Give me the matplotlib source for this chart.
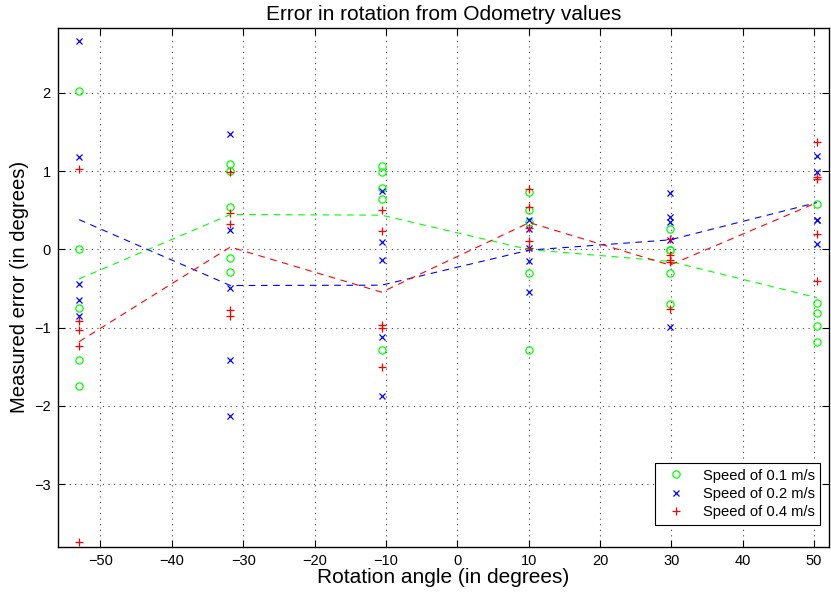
import numpy as np
import matplotlib
matplotlib.use("Agg")
import matplotlib.pyplot as plt

plt.rcParams['font.family'] = ['Liberation Sans', 'DejaVu Sans']

angles = [-53.0, -31.8, -10.6, 10.1, 29.8, 50.4]

speed_01 = [
    [2.03, 0.0, -0.75, -1.42, -1.75],
    [1.09, 1.0, 0.54, -0.11, -0.29],
    [1.064, 0.983, 0.787, 0.639, -1.286],
    [0.728, 0.498, 0.352, -0.307, -1.286],
    [0.26, -0.01, -0.01, -0.307, -0.70],
    [0.575, -0.68, -0.81, -0.98, -1.19],
]
speed_02 = [
    [2.66, 1.18, -0.44, -0.65, -0.85],
    [1.48, 0.25, -0.49, -1.42, -2.13],
    [0.745, 0.09, -0.137, -1.116, -1.87],
    [0.374, 0.259, 0.02, -0.15, -0.549],
    [0.715, 0.417, 0.345, 0.119, -0.988],
    [1.19, 0.99, 0.374, 0.374, 0.064],
]
speed_04 = [
    [1.03, -0.92, -1.03, -1.24, -3.74],
    [0.99, 0.47, 0.32, -0.78, -0.85],
    [0.50, 0.234, -0.97, -1.0, -1.50],
    [0.77, 0.544, 0.268, 0.11, 0.02],
    [0.13, -0.07, -0.137, -0.166, -0.76],
    [1.367, 0.927, 0.90, 0.195, -0.40],
]

labels = ['Speed of 0.1 m/s', 'Speed of 0.2 m/s', 'Speed of 0.4 m/s']
colors = ['#00ff00', '#0000ff', '#ff0000']
markers = ['o', 'x', '+']
msizes = [5.2, 3.8, 5.2]

fig = plt.figure(figsize=(8.31, 5.95), dpi=100)
ax = fig.add_axes([0.0694, 0.0812, 0.9282, 0.8718])

for data, lab, col, mk, ms in zip([speed_01, speed_02, speed_04], labels, colors, markers, msizes):
    xs = []
    ys = []
    for a, vals in zip(angles, data):
        xs.extend([a] * len(vals))
        ys.extend(vals)
    if mk == 'o':
        ax.plot(xs, ys, linestyle='none', marker='o', markersize=ms,
                markerfacecolor='none', markeredgecolor=col, markeredgewidth=0.9, label=lab)
    else:
        ax.plot(xs, ys, linestyle='none', marker=mk, markersize=ms,
                color=col, markeredgewidth=0.9, label=lab)

for data, col in zip([speed_01, speed_02, speed_04], colors):
    means = [np.mean(v) for v in data]
    ax.plot(angles, means, linestyle=(0, (6, 5)), color=col, linewidth=0.8)

ax.set_xlim(-56.0, 52.1)
ax.set_ylim(-3.8, 2.83)
ax.set_xticks(np.arange(-50, 51, 10))
ax.set_yticks(np.arange(-3, 3, 1))
ax.set_xticklabels(['\u221250', '\u221240', '\u221230', '\u221220', '\u221210', '0', '10', '20', '30', '40', '50'])
ax.set_yticklabels(['\u22123', '\u22122', '\u22121', '0', '1', '2'])
ax.tick_params(direction='in', top=True, right=True, length=5, width=0.8, labelsize=10.5, pad=5)
ax.grid(True, linestyle=(0, (1, 4)), color='#444444', linewidth=0.8)
for s in ax.spines.values():
    s.set_linewidth(1.0)

ax.set_title('Error in rotation from Odometry values', fontsize=15, pad=6)
ax.set_xlabel('Rotation angle (in degrees)', fontsize=15, labelpad=0)
ax.set_ylabel('Measured error (in degrees)', fontsize=14.6, labelpad=4)

leg = ax.legend(loc='lower right', fontsize=10.6, frameon=True, fancybox=False,
                edgecolor='black', framealpha=1, borderpad=0.4, handletextpad=0.8,
                labelspacing=0.3, bbox_to_anchor=(0.9985, 0.027))
leg.get_frame().set_linewidth(0.8)

fig.savefig('out.png', dpi=100)
